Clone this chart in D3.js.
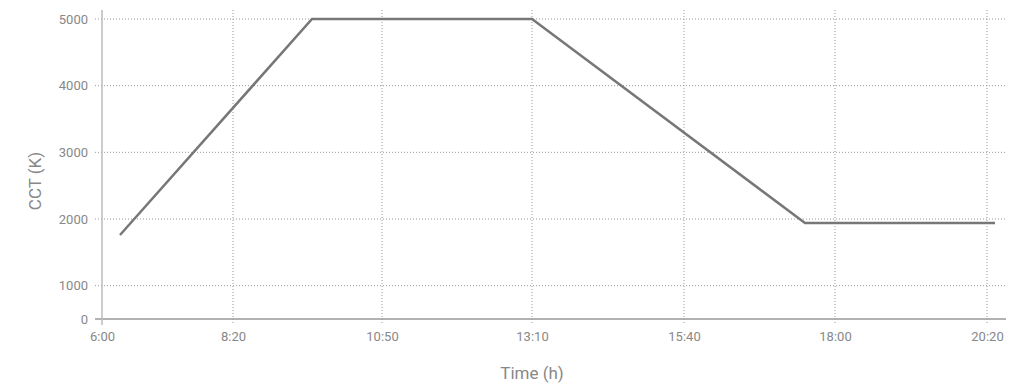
<!DOCTYPE html>
<html>
<head>
<meta charset="utf-8">
<script src="https://cdn.jsdelivr.net/npm/d3@7"></script>
<style>
  body { margin: 0; background: #fff; }
  svg text { font-family: Roboto, "Noto Sans", sans-serif; fill: #888; }
</style>
</head>
<body>
<div id="chart"></div>
<script>
// minutes after 6:00 (as drawn on the chart) and CCT in K
const times = [18, 210, 430, 703, 893];
const cct = [1760, 5000, 5000, 1940, 1940];

// tick positions on the x axis and their labels
const xTicks = [0, 131, 280, 430, 582, 733, 885];
const xTickLabels = ["6:00", "8:20", "10:50", "13:10", "15:40", "18:00", "20:20"];

// the bottom of the y axis is labelled 0
const yTicks = [500, 1000, 2000, 3000, 4000, 5000];
const yTickLabels = ["0", "1000", "2000", "3000", "4000", "5000"];

const width = 1024, height = 384;
const margin = { top: 10, right: 18, bottom: 65, left: 102 };
const innerW = width - margin.left - margin.right;
const innerH = height - margin.top - margin.bottom;

const svg = d3.select("#chart").append("svg")
    .attr("width", width)
    .attr("height", height);

const g = svg.append("g")
    .attr("transform", "translate(" + margin.left + "," + margin.top + ")");

const x = d3.scaleLinear().domain([0, 904]).range([0, innerW]);
const y = d3.scaleLinear().domain([500, 5135]).range([innerH, 0]);

// horizontal grid
g.append("g")
    .selectAll("line")
    .data(yTicks.slice(1))
    .enter()
    .append("line")
    .attr("x1", -7)
    .attr("x2", innerW)
    .attr("y1", d => y(d))
    .attr("y2", d => y(d))
    .attr("stroke", "#999")
    .attr("stroke-dasharray", "1,2");

// vertical grid
g.append("g")
    .selectAll("line")
    .data(xTicks.slice(1))
    .enter()
    .append("line")
    .attr("x1", d => x(d))
    .attr("x2", d => x(d))
    .attr("y1", 0)
    .attr("y2", innerH + 6)
    .attr("stroke", "#999")
    .attr("stroke-dasharray", "1,2");

// x axis
const xAxis = d3.axisBottom(x)
    .tickValues(xTicks)
    .tickSize(0)
    .tickPadding(13)
    .tickFormat((d, i) => xTickLabels[i]);
const gx = g.append("g")
    .attr("transform", "translate(0," + innerH + ")")
    .call(xAxis);
gx.select(".domain").remove();
gx.selectAll("text").style("font-size", "13px");

// y axis
const yAxis = d3.axisLeft(y)
    .tickValues(yTicks)
    .tickSize(0)
    .tickPadding(14)
    .tickFormat((d, i) => yTickLabels[i]);
const gy = g.append("g").call(yAxis);
gy.select(".domain").remove();
gy.selectAll("text").style("font-size", "13px");

// axis lines
g.append("line")
    .attr("x1", -7).attr("x2", innerW)
    .attr("y1", innerH).attr("y2", innerH)
    .attr("stroke", "#999").attr("stroke-width", 1.5);
g.append("line")
    .attr("x1", 0).attr("x2", 0)
    .attr("y1", 0).attr("y2", innerH + 6)
    .attr("stroke", "#bbb").attr("stroke-width", 1.5);

// the CCT line
const line = d3.line()
    .x((d, i) => x(times[i]))
    .y(d => y(d));
g.append("path")
    .datum(cct)
    .attr("d", line)
    .attr("fill", "none")
    .attr("stroke", "#777")
    .attr("stroke-width", 2.5);

// titles
svg.append("text")
    .attr("x", margin.left + x(430))
    .attr("y", 379)
    .attr("text-anchor", "middle")
    .style("font-size", "17px")
    .text("Time (h)");

svg.append("text")
    .attr("transform", "translate(41,181) rotate(-90)")
    .attr("text-anchor", "middle")
    .style("font-size", "17px")
    .text("CCT (K)");
</script>
</body>
</html>
